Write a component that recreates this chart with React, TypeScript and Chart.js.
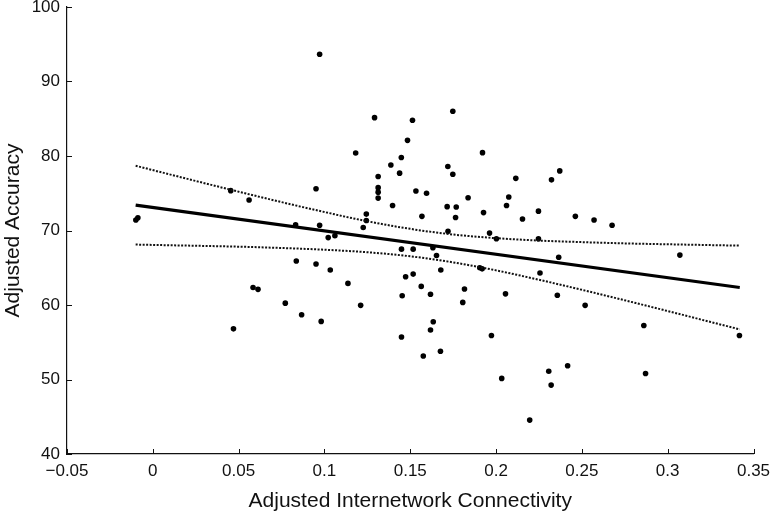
import { useEffect, useRef } from "react";
import { Chart, registerables } from "chart.js";

Chart.register(...registerables);

// Scatter data: adjusted internetwork connectivity (x) vs adjusted accuracy (y)
const connectivity = [
  -0.0099, -0.0087, 0.0454, 0.0561, 0.0951, 0.0832, 0.0972, 0.1022, 0.1061, 0.0836,
  0.0951, 0.1034, 0.1137, 0.0584, 0.0613, 0.0772, 0.0867, 0.0981, 0.047, 0.0972,
  0.1292, 0.1513, 0.1748, 0.1484, 0.1182, 0.1921, 0.1448, 0.1387, 0.1438, 0.1719,
  0.1748, 0.1313, 0.2371, 0.2323, 0.2115, 0.1313, 0.1313, 0.1313, 0.1533, 0.1595,
  0.1837, 0.2074, 0.1397, 0.1715, 0.1768, 0.2061, 0.1244, 0.1244, 0.1226, 0.1568,
  0.1764, 0.1927, 0.2154, 0.2247, 0.2462, 0.172, 0.1962, 0.2002, 0.2247, 0.2365,
  0.1449, 0.1517, 0.1632, 0.1653, 0.1678, 0.1905, 0.1919, 0.2256, 0.1473, 0.1517,
  0.1211, 0.1564, 0.1453, 0.1618, 0.1816, 0.1806, 0.2055, 0.2357, 0.1634, 0.1618,
  0.1449, 0.1973, 0.1576, 0.1676, 0.2307, 0.2417, 0.2321, 0.2033, 0.2196, 0.2571,
  0.2676, 0.3071, 0.2519, 0.2861, 0.3418, 0.2871,
];
const accuracy = [
  71.4, 71.7, 75.35, 74.1, 75.6, 70.75, 70.7, 69.05, 69.3, 65.9,
  65.5, 64.7, 62.9, 62.35, 62.1, 60.25, 58.7, 57.8, 56.8, 93.65,
  85.15, 84.8, 86.0, 82.1, 80.4, 80.45, 79.8, 78.8, 77.7, 78.6,
  77.55, 77.25, 78.0, 76.8, 77.0, 75.75, 75.15, 74.35, 75.3, 75.0,
  74.4, 74.5, 73.35, 73.2, 73.15, 73.35, 72.2, 71.35, 70.4, 71.9,
  71.75, 72.4, 71.55, 72.6, 71.9, 69.9, 69.65, 68.9, 68.9, 66.4,
  67.5, 67.5, 67.7, 66.65, 64.7, 65.0, 64.85, 64.3, 63.8, 64.15,
  59.95, 62.5, 61.25, 61.45, 62.15, 60.35, 61.5, 61.3, 57.75, 56.65,
  55.7, 55.9, 53.15, 53.8, 51.1, 51.85, 49.25, 50.15, 44.55, 71.4,
  70.7, 66.7, 59.95, 57.25, 55.9, 50.8,
];

// Regression line (end points)
const fitX = [-0.01, 0.342];
const fitY = [73.4, 62.35];

// Confidence band
const bandX = [-0.01, 0.025, 0.05, 0.075, 0.1, 0.125, 0.15, 0.175, 0.2, 0.225, 0.25, 0.275, 0.3, 0.325, 0.342];
const bandUpper = [78.69, 76.65, 75.21, 73.81, 72.48, 71.24, 70.22, 69.46, 68.97, 68.65, 68.44, 68.27, 68.15, 68.04, 67.97];
const bandLower = [68.11, 67.95, 67.83, 67.65, 67.42, 67.08, 66.54, 65.72, 64.65, 63.39, 62.04, 60.63, 59.19, 57.72, 56.73];

// Axis ticks
const xTickValues = [-0.05, 0, 0.05, 0.1, 0.15, 0.2, 0.25, 0.3, 0.35];
const xTickLabels = ["\u22120.05", "0", "0.05", "0.1", "0.15", "0.2", "0.25", "0.3", "0.35"];
const yTickValues = [40, 50, 60, 70, 80, 90, 100];
const yTickLabels = ["40", "50", "60", "70", "80", "90", "100"];

const FONT = "'Liberation Sans', Arial, Helvetica, sans-serif";
const INK = "#111111";

// Draws short tick marks pointing inward from the left and bottom axes
const inwardTicks = {
  id: "inwardTicks",
  afterDraw(chart: any) {
    const { ctx, chartArea, scales } = chart;
    const len = 5;
    ctx.save();
    ctx.strokeStyle = INK;
    ctx.lineWidth = 1;
    ctx.beginPath();
    for (const v of xTickValues) {
      const px = Math.round(scales.x.getPixelForValue(v)) + 0.5;
      ctx.moveTo(px, chartArea.bottom);
      ctx.lineTo(px, chartArea.bottom - len);
    }
    for (const v of yTickValues) {
      const py = Math.round(scales.y.getPixelForValue(v)) + 0.5;
      ctx.moveTo(chartArea.left, py);
      ctx.lineTo(chartArea.left + len, py);
    }
    ctx.stroke();
    ctx.restore();
  },
};

export default function App() {
  const canvasRef = useRef<HTMLCanvasElement | null>(null);

  useEffect(() => {
    const canvas = canvasRef.current;
    if (!canvas) return;

    const points = connectivity.map((x, i) => ({ x, y: accuracy[i] }));
    const fit = fitX.map((x, i) => ({ x, y: fitY[i] }));
    const upper = bandX.map((x, i) => ({ x, y: bandUpper[i] }));
    const lower = bandX.map((x, i) => ({ x, y: bandLower[i] }));

    const chart = new Chart(canvas, {
      type: "scatter",
      data: {
        datasets: [
          {
            label: "Upper CI",
            data: upper,
            showLine: true,
            borderColor: INK,
            borderWidth: 2,
            borderDash: [2, 1.5],
            pointRadius: 0,
            cubicInterpolationMode: "monotone",
          },
          {
            label: "Lower CI",
            data: lower,
            showLine: true,
            borderColor: INK,
            borderWidth: 2,
            borderDash: [2, 1.5],
            pointRadius: 0,
            cubicInterpolationMode: "monotone",
          },
          {
            label: "Fit",
            data: fit,
            showLine: true,
            borderColor: "#000",
            borderWidth: 3.2,
            pointRadius: 0,
          },
          {
            label: "Subjects",
            data: points,
            pointRadius: 2.8,
            pointBackgroundColor: "#000",
            pointBorderWidth: 0,
            pointBorderColor: "#000",
          },
        ],
      },
      options: {
        animation: false,
        responsive: false,
        events: [],
        layout: { padding: { left: 0, top: 7, right: 18.5, bottom: 0 } },
        plugins: { legend: { display: false }, tooltip: { enabled: false } },
        scales: {
          x: {
            type: "linear",
            min: -0.05,
            max: 0.35,
            afterBuildTicks: (scale: any) => {
              scale.ticks = xTickValues.map((v) => ({ value: v }));
            },
            afterFit: (scale: any) => {
              scale.height = 60;
              scale.paddingLeft = 0;
              scale.paddingRight = 0;
            },
            border: { display: true, color: INK, width: 1.2 },
            grid: { display: false, drawTicks: false },
            ticks: {
              color: INK,
              font: { family: FONT, size: 17 },
              padding: 7,
              maxRotation: 0,
              autoSkip: false,
              callback: (_v: any, i: number) => xTickLabels[i],
            },
            title: {
              display: true,
              text: "Adjusted Internetwork Connectivity",
              color: INK,
              font: { family: FONT, size: 21 },
              padding: { top: 0, bottom: 0 },
            },
          },
          y: {
            type: "linear",
            min: 40,
            max: 100,
            afterBuildTicks: (scale: any) => {
              scale.ticks = yTickValues.map((v) => ({ value: v }));
            },
            afterFit: (scale: any) => {
              scale.width = 67;
              scale.paddingTop = 0;
              scale.paddingBottom = 0;
            },
            border: { display: true, color: INK, width: 1.2 },
            grid: { display: false, drawTicks: false },
            ticks: {
              color: INK,
              font: { family: FONT, size: 17 },
              padding: 7,
              autoSkip: false,
              callback: (_v: any, i: number) => yTickLabels[i],
            },
            title: {
              display: true,
              text: "Adjusted Accuracy",
              color: INK,
              font: { family: FONT, size: 21 },
              padding: { top: 1, bottom: 0 },
            },
          },
        },
      },
      plugins: [inwardTicks],
    });

    return () => chart.destroy();
  }, []);

  return (
    <div style={{ position: "fixed", left: 0, top: 0, width: 772, height: 514, background: "#fff" }}>
      <canvas ref={canvasRef} width={772} height={514} style={{ width: 772, height: 514, display: "block" }} />
    </div>
  );
}
